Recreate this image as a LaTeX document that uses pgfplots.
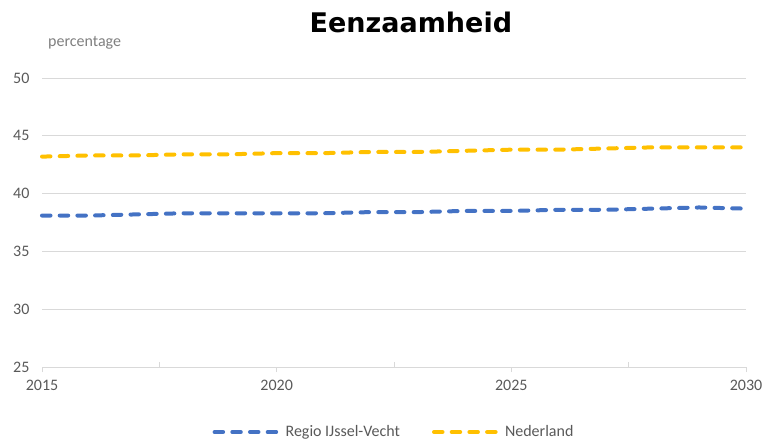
\documentclass[border=0pt]{standalone}
\usepackage{fontspec}
\setmainfont{Carlito}
\newfontfamily\titlefont{DejaVu Sans}
\usepackage{pgfplots}
\usepackage{pgfplotstable}
\pgfplotsset{compat=1.18}
\definecolor{regio}{HTML}{4472C4}
\definecolor{nl}{HTML}{FFC000}
\definecolor{gridc}{HTML}{D9D9D9}
\definecolor{tickc}{HTML}{595959}
\definecolor{lblc}{HTML}{7F7F7F}

\pgfplotstableread{
jaar regio nederland
2015 38.1 43.2
2016 38.1 43.3
2017 38.2 43.3
2018 38.3 43.4
2019 38.3 43.4
2020 38.3 43.5
2021 38.3 43.5
2022 38.4 43.6
2023 38.4 43.6
2024 38.5 43.7
2025 38.5 43.8
2026 38.6 43.8
2027 38.6 43.9
2028 38.7 44.0
2029 38.8 44.0
2030 38.7 44.0
}\eenzaam

\begin{document}
\begin{tikzpicture}
\useasboundingbox (-42pt,-73pt) rectangle (723pt,367pt);
\begin{axis}[
  at={(0pt,0pt)}, anchor=south west,
  scale only axis, width=704pt, height=289pt,
  xmin=2015, xmax=2030, ymin=25, ymax=50,
  xtick={2015,2020,2025,2030}, ytick={25,30,35,40,45,50},
  extra x ticks={2017.5,2022.5,2027.5},
  extra x tick style={tick align=inside, xticklabels={}},
  separate axis lines, axis x line*=bottom, axis y line*=left,
  y axis line style={draw=none}, ytick style={draw=none},
  x axis line style={gridc, line width=1pt},
  xtick style={gridc, line width=1pt}, major tick length=5pt, tick align=outside,
  ymajorgrids, grid style={gridc, line width=1pt},
  tick label style={font=\fontsize{16}{19}\selectfont, color=tickc},
  /pgf/number format/assume math mode=true, /pgf/number format/1000 sep={},
  yticklabel style={xshift=-4pt},
  xticklabel style={yshift=-5pt},
  clip=false,
  legend style={at={(0.5,-0.225)}, anchor=center, draw=none, fill=none,
    legend columns=2, font=\fontsize{16}{19}\selectfont, text=tickc,
    /tikz/every odd column/.append style={column sep=5pt},
    /tikz/every even column/.append style={column sep=30pt}},
  legend image code/.code={\draw[#1] (0pt,0pt) -- (62pt,0pt);},
]
\addplot[regio, line width=4pt, line cap=round, dash pattern=on 8.5pt off 9.2pt] table[x=jaar, y=regio] {\eenzaam};
\addlegendentry{Regio IJssel-Vecht}
\addplot[nl, line width=4pt, line cap=round, dash pattern=on 8.5pt off 9.2pt] table[x=jaar, y=nederland] {\eenzaam};
\addlegendentry{Nederland}
\node[anchor=west, font=\fontsize{16}{19}\selectfont, text=lblc, inner sep=0pt] at ([xshift=6pt, yshift=35pt]rel axis cs:0,1) {percentage};
\node[font=\titlefont\bfseries\fontsize{27}{30}\selectfont, inner sep=0pt] at ([yshift=56pt]rel axis cs:0.524,1) {Eenzaamheid};
\end{axis}
\end{tikzpicture}
\end{document}
